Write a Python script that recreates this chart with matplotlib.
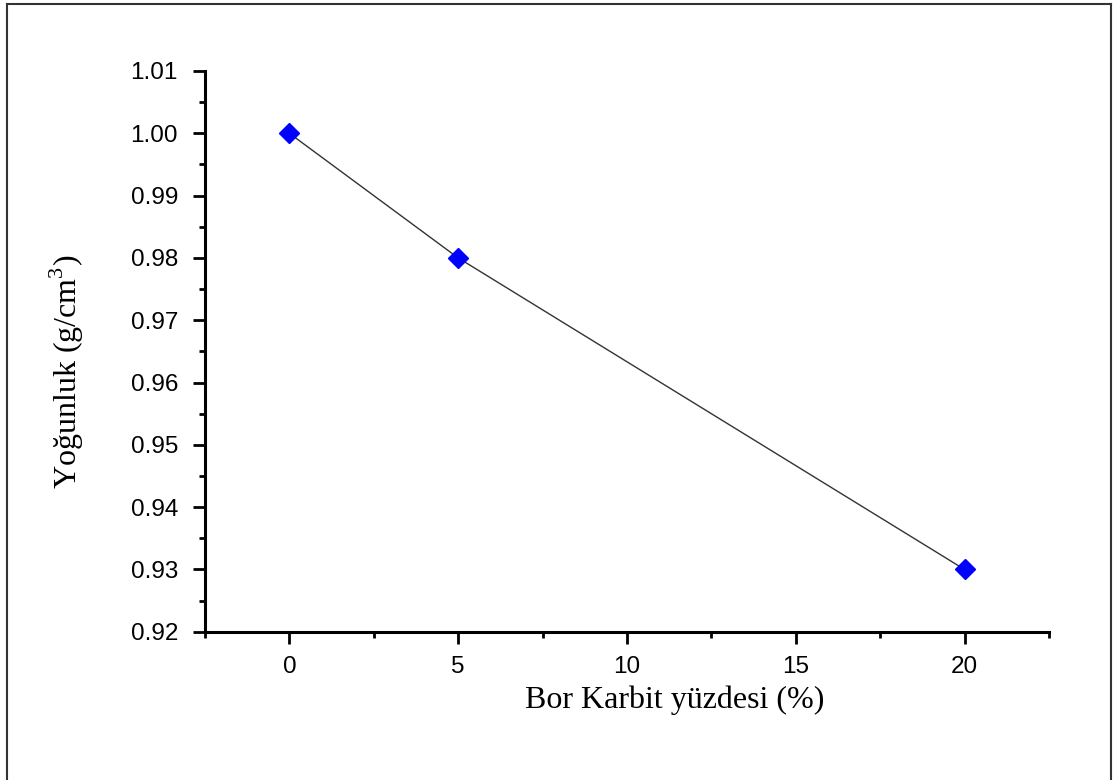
import matplotlib.pyplot as plt
from matplotlib.lines import Line2D
from matplotlib.ticker import MultipleLocator

plt.rcParams["mathtext.fontset"] = "custom"
plt.rcParams["mathtext.rm"] = "Liberation Serif"

# Bor karbit oranı (%) ve yoğunluk (g/cm3)
bor_karbit = [0, 5, 20]
yogunluk = [1.00, 0.98, 0.93]

fig = plt.figure(figsize=(11.2, 7.8), dpi=100)
ax = fig.add_axes([0.183, 0.19, 0.7536, 0.719])

ax.plot(bor_karbit, yogunluk, color="#333333", linewidth=1.0, zorder=2)
ax.plot(bor_karbit, yogunluk, linestyle="none", marker="D", markersize=10,
        color="#0000ff", markeredgecolor="#0000ff", zorder=3)

ax.set_xlim(-2.5, 22.5)
ax.set_ylim(0.92, 1.01)
ax.xaxis.set_major_locator(MultipleLocator(5))
ax.xaxis.set_minor_locator(MultipleLocator(2.5))
ax.yaxis.set_major_locator(MultipleLocator(0.01))
ax.yaxis.set_minor_locator(MultipleLocator(0.005))
ax.yaxis.set_major_formatter(plt.FormatStrFormatter("%.2f"))

for side in ("top", "right"):
    ax.spines[side].set_visible(False)
for side in ("left", "bottom"):
    ax.spines[side].set_linewidth(2.2)

ax.tick_params(which="major", direction="out", length=8.5, width=2, labelsize=17.5,
               labelfontfamily="Liberation Sans")
ax.tick_params(which="minor", direction="out", length=4.5, width=2)
ax.tick_params(axis="y", which="major", pad=11)
ax.tick_params(axis="x", which="major", pad=9)

ax.set_xlabel("Bor Karbit yüzdesi (%)", fontfamily="Liberation Serif", fontsize=23)
ax.set_ylabel("Yoğunluk (g/cm$^3$)", fontfamily="Liberation Serif", fontsize=23)
ax.xaxis.set_label_coords(0.557, -0.096)
ax.yaxis.set_label_coords(-0.141, 0.463)

# frame around the figure (bottom edge cut off in the original)
x0, x1, y1 = 7 / 1120, 1111 / 1120, 1 - 4 / 780
for xs, ys in (([x0, x0], [0, y1]), ([x0, x1], [y1, y1]), ([x1, x1], [y1, 0])):
    fig.add_artist(Line2D(xs, ys, transform=fig.transFigure, color="#333333", linewidth=1.5))

fig.savefig("out.png", dpi=100)
